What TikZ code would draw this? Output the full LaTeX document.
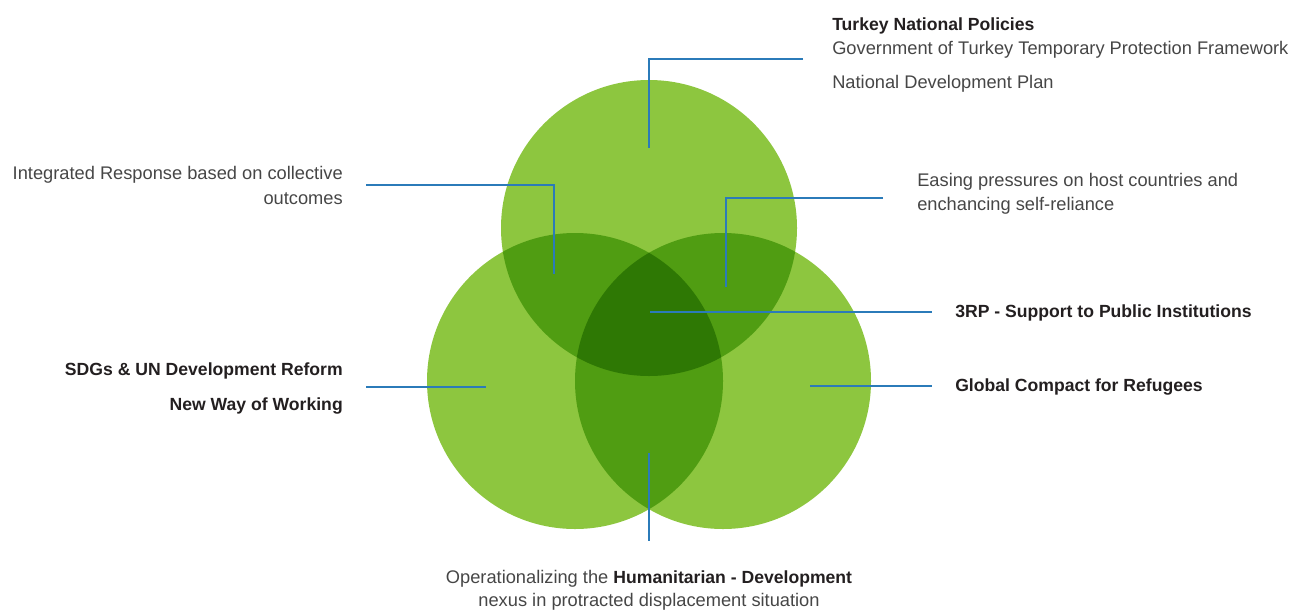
\documentclass[tikz,border=0pt]{standalone}
\usepackage{fontspec}
\setmainfont{Liberation Sans}
\begin{document}
\definecolor{gA}{RGB}{141,198,63}
\definecolor{gB}{RGB}{80,157,18}
\definecolor{gC}{RGB}{46,120,4}
\definecolor{lnk}{RGB}{43,123,185}
\definecolor{txt}{RGB}{70,70,70}
\definecolor{txb}{RGB}{35,31,32}
\begin{tikzpicture}[x=0.75pt,y=-0.75pt,
  lbl/.style={inner sep=0pt, font=\fontsize{13.7}{15}\selectfont, text=txt},
  lblb/.style={inner sep=0pt, font=\fontsize{13.2}{15}\selectfont\bfseries, text=txb},
  link/.style={draw=lnk, line width=0.9pt}]
\useasboundingbox (0,0) rectangle (1295,611);
\def\R{111pt}
% circle centres
\coordinate (T) at (649,228);
\coordinate (L) at (575,381);
\coordinate (Q) at (723,381);
% single areas
\fill[gA] (T) circle (\R);
\fill[gA] (L) circle (\R);
\fill[gA] (Q) circle (\R);
% pairwise overlaps
\begin{scope}
  \clip (T) circle (\R);
  \fill[gB] (L) circle (\R);
  \fill[gB] (Q) circle (\R);
\end{scope}
\begin{scope}
  \clip (L) circle (\R);
  \fill[gB] (Q) circle (\R);
\end{scope}
% triple overlap
\begin{scope}
  \clip (T) circle (\R);
  \clip (L) circle (\R);
  \fill[gC] (Q) circle (\R);
\end{scope}

% connector end points
\coordinate (a1) at (803,59);   \coordinate (a2) at (649,59);  \coordinate (a3) at (649,148);
\coordinate (b1) at (366,185);  \coordinate (b2) at (554,185); \coordinate (b3) at (554,274);
\coordinate (c1) at (883,198);  \coordinate (c2) at (726,198); \coordinate (c3) at (726,287);
\coordinate (d1) at (650,312);  \coordinate (d2) at (932,312);
\coordinate (e1) at (810,386);  \coordinate (e2) at (932,386);
\coordinate (f1) at (366,387);  \coordinate (f2) at (486,387);
\coordinate (g1) at (649,453);  \coordinate (g2) at (649,541);

\draw[link] (a1) -- (a2) -- (a3);
\draw[link] (b1) -- (b2) -- (b3);
\draw[link] (c1) -- (c2) -- (c3);
\draw[link] (d1) -- (d2);
\draw[link] (e1) -- (e2);
\draw[link] (f1) -- (f2);
\draw[link] (g1) -- (g2);

% labels
\node[lblb, anchor=west] (t1) at (832,26) {Turkey National Policies};
\node[lbl, anchor=west] (t2) at (832,50) {Government of Turkey Temporary Protection Framework};
\node[lbl, anchor=west] (t3) at (832,84) {National Development Plan};
\node[lbl, anchor=east] (l1) at (343,175) {Integrated Response based on collective};
\node[lbl, anchor=east] (l2) at (343,199) {outcomes};
\node[lbl, anchor=west] (r1) at (917,182) {Easing pressures on host countries and};
\node[lbl, anchor=west] (r2) at (917,206) {enchancing self-reliance};
\node[lblb, anchor=west] (m1) at (955,313) {3RP - Support to Public Institutions};
\node[lblb, anchor=west] (m2) at (955,387) {Global Compact for Refugees};
\node[lblb, anchor=east] (s1) at (343,371) {SDGs \& UN Development Reform};
\node[lblb, anchor=east] (s2) at (343,406) {New Way of Working};
\node[lbl] (o1) at (649,579) {Operationalizing the {\fontsize{13.2}{15}\selectfont\bfseries\color{txb}Humanitarian - Development}};
\node[lbl] (o2) at (649,602) {nexus in protracted displacement situation};
\end{tikzpicture}
\end{document}
